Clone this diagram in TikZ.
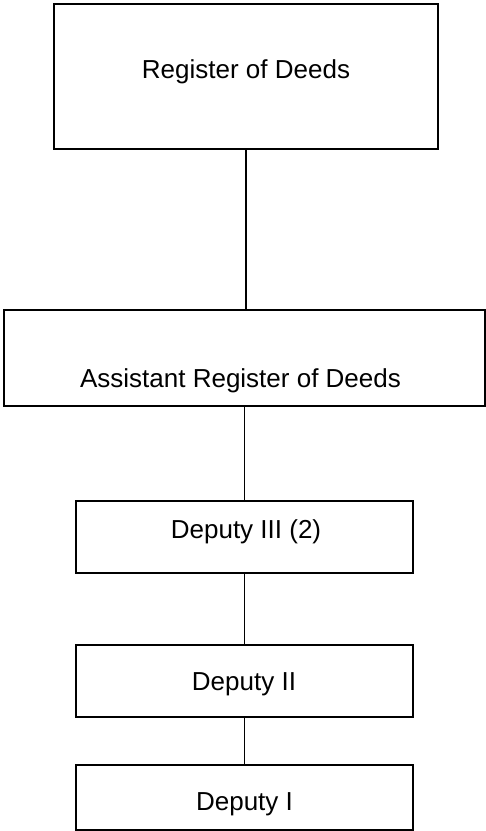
\documentclass[tikz,border=0pt]{standalone}
\usepackage{fontspec}
\setmainfont{Liberation Sans}
\usepackage{tikz}

\begin{document}
\begin{tikzpicture}[x=1pt,y=-1pt]
	\tikzstyle{office}=[rectangle,draw=black,line width=1.2pt,inner sep=0pt]
	\tikzstyle{title}=[anchor=base,inner sep=0pt,font=\fontsize{26}{30}\selectfont]
	\useasboundingbox (0,0) rectangle (486,831);
	\node[office,minimum width=384pt,minimum height=145pt] (rod) at (246,76.5) {};
	\node[office,minimum width=481pt,minimum height=96pt] (ard) at (244.5,358) {};
	\node[office,minimum width=337pt,minimum height=72pt] (dep3) at (244.5,537) {};
	\node[office,minimum width=337pt,minimum height=72pt] (dep2) at (244.5,681) {};
	\node[office,minimum width=337pt,minimum height=65pt] (dep1) at (244.5,797.5) {};
	\node[title] (trod) at (246,78) {Register of Deeds};
	\node[title] (tard) at (240.5,387) {Assistant Register of Deeds};
	\node[title] (tdep3) at (246,538) {Deputy III (2)};
	\node[title] (tdep2) at (244,690) {Deputy II};
	\node[title] (tdep1) at (244.5,810) {Deputy I};
	\draw[line width=1.2pt] (rod.south) -- (rod.south |- ard.north);
	\draw[line width=1.2pt] (ard.south) -- (dep3.north);
	\draw[line width=1.2pt] (dep3.south) -- (dep2.north);
	\draw[line width=1.2pt] (dep2.south) -- (dep1.north);
\end{tikzpicture}
\end{document}
